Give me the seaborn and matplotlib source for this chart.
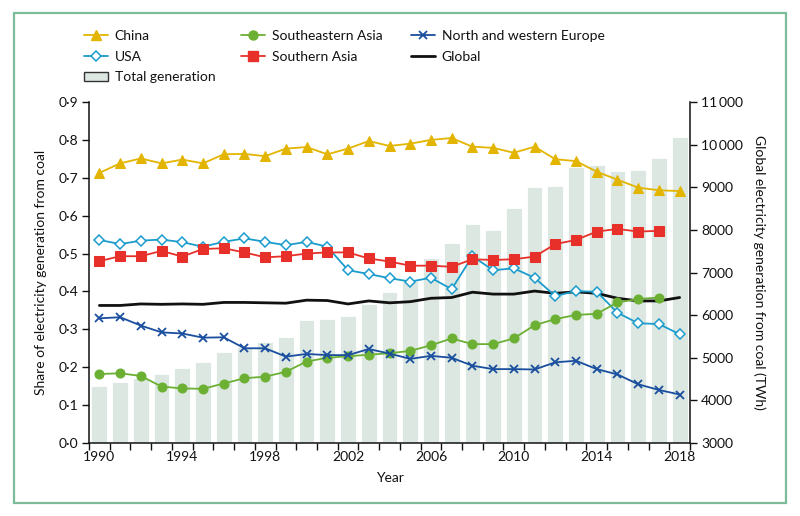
import numpy as np
import pandas as pd
import matplotlib
matplotlib.use("Agg")
import matplotlib.pyplot as plt
import seaborn as sns
from matplotlib.lines import Line2D
from matplotlib.patches import Patch, Rectangle
from matplotlib.ticker import FixedLocator, FuncFormatter

# ---------------- data ----------------
years = list(range(1990, 2019))
years_short = years[:-1]  # series without a 2018 value

china = [0.713, 0.738, 0.751, 0.738, 0.748, 0.738, 0.762, 0.763, 0.757, 0.777,
         0.781, 0.762, 0.777, 0.797, 0.784, 0.790, 0.800, 0.805, 0.782, 0.779,
         0.766, 0.782, 0.749, 0.744, 0.716, 0.695, 0.674, 0.667, 0.665]
usa = [0.536, 0.525, 0.534, 0.537, 0.530, 0.518, 0.531, 0.540, 0.531, 0.522,
       0.531, 0.518, 0.456, 0.446, 0.435, 0.426, 0.436, 0.406, 0.493, 0.456,
       0.461, 0.436, 0.388, 0.401, 0.399, 0.344, 0.316, 0.314, 0.287]
se_asia = [0.182, 0.184, 0.177, 0.149, 0.144, 0.143, 0.157, 0.171, 0.175, 0.188,
           0.215, 0.225, 0.229, 0.233, 0.237, 0.243, 0.258, 0.276, 0.261, 0.261,
           0.276, 0.311, 0.327, 0.338, 0.341, 0.371, 0.380, 0.384]
s_asia = [0.480, 0.493, 0.493, 0.507, 0.492, 0.512, 0.514, 0.503, 0.490, 0.493,
          0.500, 0.503, 0.503, 0.487, 0.479, 0.468, 0.468, 0.465, 0.485, 0.483,
          0.485, 0.492, 0.525, 0.536, 0.558, 0.565, 0.558, 0.560]
europe = [0.329, 0.332, 0.310, 0.292, 0.289, 0.278, 0.279, 0.250, 0.250, 0.228,
          0.235, 0.232, 0.232, 0.248, 0.236, 0.222, 0.230, 0.225, 0.204, 0.195,
          0.195, 0.194, 0.213, 0.217, 0.195, 0.181, 0.155, 0.140, 0.128]
global_share = [0.363, 0.363, 0.367, 0.366, 0.367, 0.366, 0.371, 0.371, 0.370, 0.369,
                0.377, 0.376, 0.367, 0.375, 0.370, 0.373, 0.382, 0.384, 0.398, 0.393,
                0.393, 0.401, 0.395, 0.399, 0.395, 0.382, 0.375, 0.375, 0.384]
total_twh = [4338, 4439, 4518, 4620, 4753, 4894, 5143, 5260, 5364, 5481,
             5887, 5903, 5981, 6263, 6533, 6803, 7333, 7685, 8131, 7998,
             8522, 9000, 9040, 9475, 9533, 9385, 9400, 9683, 10170]

left_ticks = [0.0, 0.1, 0.2, 0.3, 0.4, 0.5, 0.6, 0.7, 0.8, 0.9]
right_ticks = [3000, 4000, 5000, 6000, 7000, 8000, 9000, 10000, 11000]
right_labels = ["3000", "4000", "5000", "6000", "7000", "8000", "9000",
                "10\u2009000", "11\u2009000"]
year_ticks = [1990, 1994, 1998, 2002, 2006, 2010, 2014, 2018]

# ---------------- style ----------------
c_china = "#e3b500"
c_usa = "#1b9ccc"
c_se = "#6cb033"
c_s = "#e8302a"
c_eu = "#1a4e9e"
c_glob = "#111111"
c_bar = "#dbe7e0"
c_frame = "#7dbb9b"

sns.set_theme(style="ticks")
plt.rcParams["font.family"] = ["Lato", "DejaVu Sans"]
plt.rcParams["text.color"] = "#111111"
plt.rcParams["axes.labelcolor"] = "#111111"
plt.rcParams["xtick.color"] = "#111111"
plt.rcParams["ytick.color"] = "#111111"

fig = plt.figure(figsize=(8, 5.16), dpi=100)
ax = fig.add_axes([89 / 800, 73 / 516, 601 / 800, 341 / 516])
ax2 = ax.twinx()

# bars (right axis)
sns.barplot(x=years, y=total_twh, ax=ax2, native_scale=True, color=c_bar,
            saturation=1, width=0.76, edgecolor="white", linewidth=0.6, errorbar=None)

# lines (left axis)
common = dict(ax=ax, linewidth=1.3, markersize=6.5)
sns.lineplot(x=years, y=global_share, color=c_glob, ax=ax, linewidth=2.0)
sns.lineplot(x=years, y=china, color=c_china, marker="^", markeredgecolor=c_china, **common)
sns.lineplot(x=years, y=usa, color=c_usa, marker="D", markerfacecolor="white",
             markeredgecolor=c_usa, markeredgewidth=1.1, ax=ax, linewidth=1.3, markersize=5.5)
sns.lineplot(x=years_short, y=se_asia, color=c_se, marker="o", markeredgecolor=c_se, **common)
sns.lineplot(x=years_short, y=s_asia, color=c_s, marker="s", markeredgecolor=c_s, **common)
sns.lineplot(x=years, y=europe, color=c_eu, marker="x", markeredgecolor=c_eu,
             markeredgewidth=1.3, ax=ax, linewidth=1.3, markersize=6)

ax.set_zorder(ax2.get_zorder() + 1)
ax.patch.set_visible(False)

ax.set_xlim(1989.5, 2018.5)
ax.set_ylim(0, 0.9)
ax2.set_ylim(3000, 11000)

# x axis ticks: labels at years, tick marks at bar boundaries
ax.xaxis.set_major_locator(FixedLocator(year_ticks))
ax.xaxis.set_major_formatter(FuncFormatter(lambda v, p: f"{int(round(v))}"))
ax.xaxis.set_minor_locator(FixedLocator(np.arange(1989.5, 2019.0, 1.0)))
ax.tick_params(axis="x", which="major", length=0, labelsize=10, pad=6)
ax.tick_params(axis="x", which="minor", length=5, width=1, direction="out")

ax.yaxis.set_major_locator(FixedLocator(left_ticks))
ax.yaxis.set_major_formatter(FuncFormatter(lambda v, p: f"{v:.1f}".replace(".", "\u00b7")))
ax.tick_params(axis="y", which="major", length=5, width=1, labelsize=10, pad=3)

ax2.yaxis.set_major_locator(FixedLocator(right_ticks))
ax2.set_yticklabels(right_labels)
ax2.tick_params(axis="y", which="major", length=5, width=1, labelsize=10, pad=3)

for s in ["top", "right"]:
    ax.spines[s].set_visible(False)
for s in ["top", "left", "bottom"]:
    ax2.spines[s].set_visible(False)
for a, s in [(ax, "left"), (ax, "bottom"), (ax2, "right")]:
    a.spines[s].set_linewidth(1.1)
    a.spines[s].set_color("#111111")

ax.set_xlabel("Year", fontsize=10, labelpad=6)
ax.set_ylabel("Share of electricity generation from coal", fontsize=10, labelpad=8)
ax2.set_ylabel("Global electricity generation from coal (TWh)", fontsize=10,
               rotation=270, labelpad=16)
ax2.set_xlabel("")

# legend: three columns placed individually
col1 = ([Line2D([], [], color=c_china, marker="^", markersize=6.5, lw=1.3),
         Line2D([], [], color=c_usa, marker="D", markerfacecolor="white", markersize=5.5,
                lw=1.3, markeredgewidth=1.1),
         Patch(facecolor=c_bar, edgecolor="#333333", linewidth=1.0)],
        ["China", "USA", "Total generation"], 84)
col2 = ([Line2D([], [], color=c_se, marker="o", markersize=6.5, lw=1.3),
         Line2D([], [], color=c_s, marker="s", markersize=6.5, lw=1.3)],
        ["Southeastern Asia", "Southern Asia"], 241)
col3 = ([Line2D([], [], color=c_eu, marker="x", markersize=6, lw=1.3, markeredgewidth=1.3),
         Line2D([], [], color=c_glob, lw=2.0)],
        ["North and western Europe", "Global"], 411)
for hs, ls, x0 in (col1, col2, col3):
    leg = fig.legend(hs, ls, ncol=1, loc="upper left",
                     bbox_to_anchor=(x0 / 800, 1 - 30 / 516),
                     frameon=False, fontsize=10, handlelength=1.7, handletextpad=0.5,
                     labelspacing=0.62, borderpad=0, borderaxespad=0)

# journal frame
fig.add_artist(Rectangle((14 / 800, 13 / 516), 772 / 800, 490 / 516, transform=fig.transFigure,
                         fill=False, edgecolor=c_frame, linewidth=1.6))

fig.savefig("out.png", dpi=100)
